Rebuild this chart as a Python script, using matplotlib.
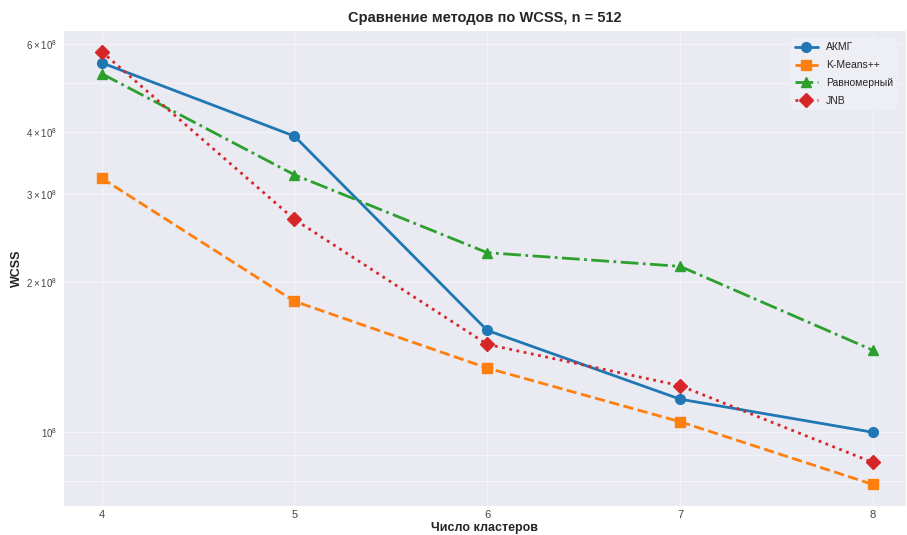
import matplotlib
matplotlib.use("Agg")
import matplotlib.pyplot as plt
import seaborn as sns

sns.set_style("darkgrid")
plt.rcParams['font.family'] = ['Liberation Sans', 'DejaVu Sans']

clusters = [4, 5, 6, 7, 8]
akmg = [5.50e8, 3.92e8, 1.60e8, 1.165e8, 1.00e8]
kmeans_pp = [3.23e8, 1.83e8, 1.345e8, 1.05e8, 0.786e8]
uniform = [5.23e8, 3.28e8, 2.29e8, 2.15e8, 1.46e8]
jnb = [5.79e8, 2.67e8, 1.50e8, 1.24e8, 0.87e8]

fig = plt.figure(figsize=(9.07, 5.35), dpi=100)
ax = fig.add_axes([0.0695, 0.054, 0.929, 0.89])

ax.plot(clusters, akmg, '-', marker='o', color='#1f77b4', lw=2, ms=7, label='АКМГ')
ax.plot(clusters, kmeans_pp, '--', marker='s', color='#ff7f0e', lw=2, ms=7, label='K-Means++')
ax.plot(clusters, uniform, '-.', marker='^', color='#2ca02c', lw=2, ms=7, label='Равномерный')
ax.plot(clusters, jnb, ':', marker='D', color='#d62728', lw=2, ms=7, label='JNB')

ax.set_yscale('log')
ax.set_xlim(3.8, 8.17)
ax.set_xticks(clusters)
ax.grid(True, which='both', color='white', lw=0.8, alpha=0.5)
ax.tick_params(axis='both', which='both', labelsize=7, labelcolor='#444444', length=0, pad=4)
ax.tick_params(axis='x', labelsize=8, pad=3)

ax.set_title('Сравнение методов по WCSS, n = 512', fontsize=10.5, fontweight='bold')
ax.set_xlabel('Число кластеров', fontsize=9, fontweight='bold', labelpad=1)
ax.set_ylabel('WCSS', fontsize=9, fontweight='bold', labelpad=2)

ax.legend(loc='upper right', fontsize=7.5, frameon=True, facecolor='#EEEEF5',
          edgecolor='none', framealpha=1, borderaxespad=0.8, labelspacing=0.75,
          handlelength=2.2)

fig.savefig('out.png', dpi=100)
